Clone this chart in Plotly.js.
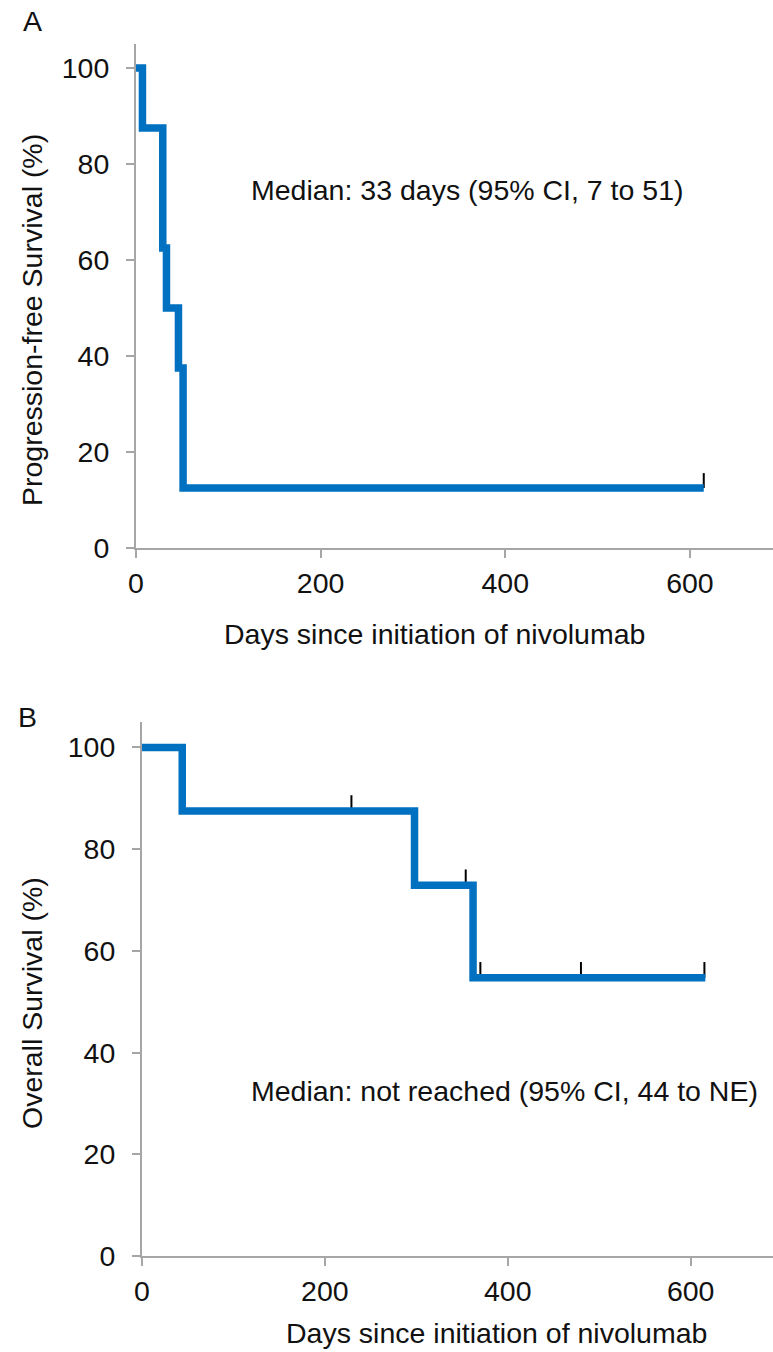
<!DOCTYPE html>
<html>
<head>
<meta charset="utf-8">
<script src="https://cdn.plot.ly/plotly-3.0.1.min.js"></script>
<style>html,body{margin:0;padding:0;background:#fff;}#chart{width:773px;height:1352px;}</style>
</head>
<body>
<div id="chart"></div>
<script>
// Panel A: progression-free survival
var pfsDays = [0, 7, 29, 33, 46, 51, 615];
var pfsSurv = [100, 87.5, 62.5, 50, 37.5, 12.5, 12.5];
var pfsCensorDays = [615];
var pfsCensorSurv = [12.5];
// Panel B: overall survival
var osDays = [0, 44, 298, 362, 616];
var osSurv = [100, 87.5, 72.9, 54.7, 54.7];
var osCensorDays = [229, 354, 370, 480, 615];
var osCensorSurv = [87.5, 72.9, 54.7, 54.7, 54.7];
// ticks
var xTicks = [0, 200, 400, 600];
var yTicks = [0, 20, 40, 60, 80, 100];
// texts
var xTitle = "Days since initiation of nivolumab";
var yTitleA = "Progression-free Survival (%)";
var yTitleB = "Overall Survival (%)";
var noteA = "Median: 33 days (95% CI, 7 to 51)";
var noteB = "Median: not reached (95% CI, 44 to NE)";

var BLUE = "#0070C0";
var GRAY = "#a6a6a6";
var FONT = "Liberation Sans, Arial, sans-serif";
var FS = 28.5;

function censorTrace(xs, ys, xa, ya) {
  return {
    x: xs, y: ys, xaxis: xa, yaxis: ya, type: "scatter", mode: "markers",
    marker: {size: 1, color: "rgba(0,0,0,0)"},
    error_y: {type: "data", symmetric: false, array: ys.map(function(){return 3.1;}),
      arrayminus: ys.map(function(){return 0;}), width: 0, thickness: 2, color: "#000"},
    hoverinfo: "skip", showlegend: false, cliponaxis: false
  };
}
function curveTrace(xs, ys, xa, ya) {
  return {
    x: xs, y: ys, xaxis: xa, yaxis: ya, type: "scatter", mode: "lines",
    line: {shape: "hv", color: BLUE, width: 7.5},
    showlegend: false, cliponaxis: false
  };
}

var data = [
  censorTrace(pfsCensorDays, pfsCensorSurv, "x", "y"),
  curveTrace(pfsDays, pfsSurv, "x", "y"),
  censorTrace(osCensorDays, osCensorSurv, "x2", "y2"),
  curveTrace(osDays, osSurv, "x2", "y2")
];

function xAxis(dom, anchor) {
  return {domain: dom, anchor: anchor, range: [0, 690], tickvals: xTicks, ticktext: xTicks.map(String),
    showline: true, linecolor: GRAY, linewidth: 2, ticks: "outside", ticklen: 8, tickwidth: 2, tickcolor: GRAY,
    showgrid: false, zeroline: false, ticklabelstandoff: 1,
    tickfont: {family: FONT, size: FS, color: "#111"}};
}
function yAxis(dom, anchor) {
  return {domain: dom, anchor: anchor, range: [0, 105], tickvals: yTicks, ticktext: yTicks.map(String),
    showline: true, linecolor: GRAY, linewidth: 2, ticks: "outside", ticklen: 8, tickwidth: 2, tickcolor: GRAY,
    showgrid: false, zeroline: false, ticklabelstandoff: 11,
    tickfont: {family: FONT, size: FS, color: "#111"}};
}

var H = 1352, W = 773;
function py(pix) { return (H - pix) / H; }
function px(pix) { return pix / W; }
function note(text, x, y, xref, yref, angle) {
  return {text: text, xref: xref, yref: yref, x: x, y: y, showarrow: false,
    xanchor: "center", yanchor: "middle", textangle: angle || 0,
    font: {family: FONT, size: FS, color: "#111"}};
}

var layout = {
  width: W, height: H,
  margin: {l: 0, r: 0, t: 0, b: 0},
  paper_bgcolor: "#fff", plot_bgcolor: "rgba(0,0,0,0)",
  showlegend: false,
  xaxis: xAxis([136 / W, 1], "y"),
  yaxis: yAxis([py(548), py(44)], "x"),
  xaxis2: xAxis([142 / W, 1], "y2"),
  yaxis2: yAxis([py(1256), py(722)], "x2"),
  annotations: [
    note("A", px(32), py(21), "paper", "paper"),
    note("B", px(28), py(717), "paper", "paper"),
    note(yTitleA, px(32), py(320), "paper", "paper", -90),
    note(yTitleB, px(32), py(1003), "paper", "paper", -90),
    note(xTitle, px(435), py(634), "paper", "paper"),
    note(xTitle, px(496), py(1333), "paper", "paper"),
    note(noteA, 358, 74.6, "x", "y"),
    note(noteB, 396, 32.4, "x2", "y2")
  ]
};

Plotly.newPlot("chart", data, layout, {staticPlot: true, displayModeBar: false});
</script>
</body>
</html>
